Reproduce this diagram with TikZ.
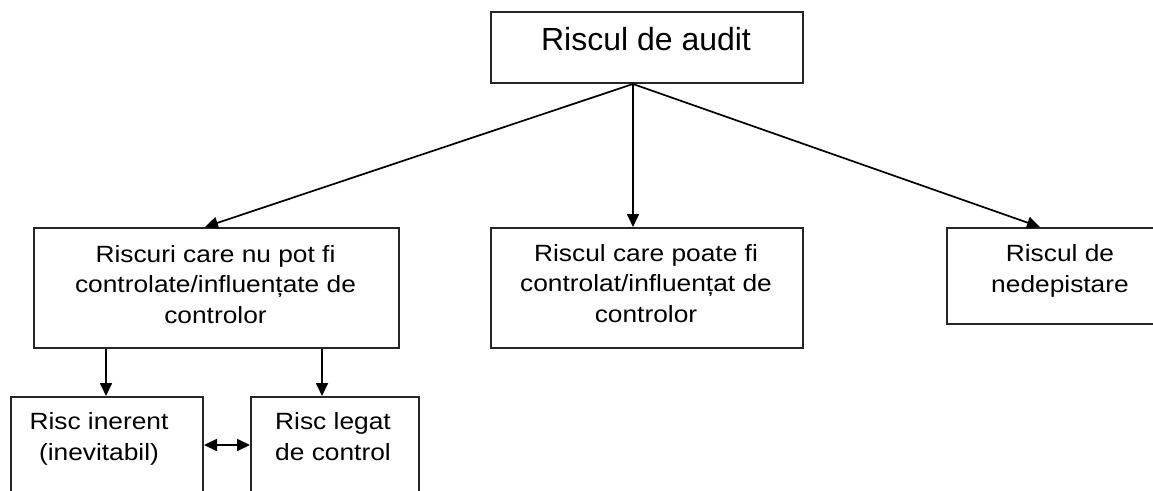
\documentclass[tikz,border=0pt]{standalone}
\usepackage{fontspec}
\setmainfont{Liberation Sans}
\newfontfamily\widesans[FakeStretch=1.12]{Liberation Sans}
\usetikzlibrary{arrows.meta}
\begin{document}
\begin{tikzpicture}[x=1pt,y=-1pt,
 box/.style={draw=black!85, line width=2pt, inner sep=0pt, anchor=north west},
 lbl/.style={font=\widesans\fontsize{23.5}{30.5}\selectfont, align=center, anchor=base, inner sep=0pt},
 arr/.style={-{Triangle[length=13pt,width=12pt]}, line width=1.7pt},
 dbl/.style={{Triangle[length=13pt,width=12pt]}-{Triangle[length=13pt,width=12pt]}, line width=1.7pt},
]
\useasboundingbox (0,0) rectangle (1153,490);
\clip (0,0) rectangle (1153,490);
\fill[white] (0,0) rectangle (1153,490);
% boxes
\node[box, minimum width=312pt, minimum height=71pt] (top) at (490,11) {};
\node[box, minimum width=365pt, minimum height=120pt] (left) at (33,227) {};
\node[box, minimum width=312pt, minimum height=120pt] (mid) at (490,227) {};
\node[box, minimum width=228pt, minimum height=96pt] (right) at (946,227) {};
\node[box, minimum width=192pt, minimum height=140pt] (bl) at (10,396) {};
\node[box, minimum width=168pt, minimum height=140pt] (br) at (250,396) {};
% labels (anchor base = last line baseline)
\node[lbl, font=\fontsize{32}{36}\selectfont] (ttop) at (646,50) {Riscul de audit};
\node[lbl] (tleft) at (215.5,323) {Riscuri care nu pot fi\\controlate/influențate de\\controlor};
\node[lbl] (tmid) at (646,322) {Riscul care poate fi\\controlat/influențat de\\controlor};
\node[lbl] (tright) at (1060,292) {Riscul de\\nedepistare};
\node[lbl] (tbl) at (99,460) {Risc inerent\\(inevitabil)};
\node[lbl] (tbr) at (333,460) {Risc legat\\de control};
% connectors
\coordinate (src) at ([xshift=143pt]top.south west);
\draw[arr] (src) -- ([xshift=172pt]left.north west);
\draw[arr] (src) -- (src |- mid.north);
\draw[arr] (src) -- ([xshift=94pt]right.north west);
\draw[arr] ([xshift=73pt]left.south west) coordinate (d1) -- (d1 |- bl.north);
\draw[arr] ([xshift=289pt]left.south west) coordinate (d2) -- (d2 |- br.north);
\draw[dbl] ([yshift=-49pt]bl.north east) -- ([yshift=-49pt]br.north west);
\end{tikzpicture}
\end{document}
